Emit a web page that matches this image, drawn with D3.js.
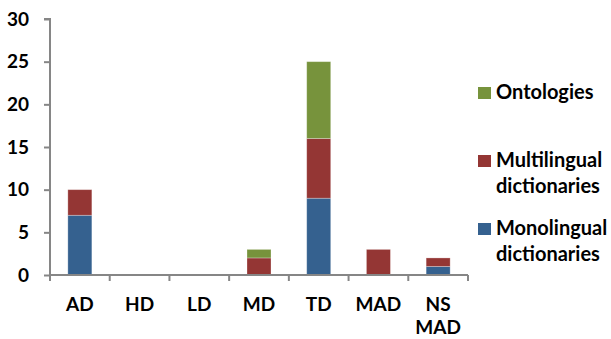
<!DOCTYPE html>
<html><head><meta charset="utf-8">
<script src="https://cdn.jsdelivr.net/npm/d3@7"></script>
<style>body{margin:0;background:#fff}svg{display:block}text{font-family:Lato,"Open Sans",sans-serif;font-weight:bold;fill:#000}</style>
</head><body><svg id="c" width="611" height="339"></svg>
<script>
const categories = ["AD","HD","LD","MD","TD","MAD","NS MAD"];
const monolingual = [7,0,0,0,9,0,1];
const multilingual = [3,0,0,2,7,3,1];
const ontologies = [0,0,0,1,9,0,0];
const yTicks = [0,5,10,15,20,25,30];
const seriesNames = ["Monolingual dictionaries","Multilingual dictionaries","Ontologies"];
const colors = ["#35618f","#943634","#77933c"];

const svg = d3.select("#c");
const pLeft = 50, pRight = 468, pTop = 19, pBottom = 275;
const x = d3.scaleBand().domain(categories).range([pLeft, pRight]);
const y = d3.scaleLinear().domain([0,30]).range([pBottom, pTop]);
const axisColor = "#868686";
const fs = "19px";

const rows = categories.map((c,i)=>({cat:c, s0:monolingual[i], s1:multilingual[i], s2:ontologies[i]}));
const stack = d3.stack().keys(["s0","s1","s2"])(rows);
const barW = 24;
stack.forEach((layer,k)=>{
  svg.append("g").selectAll("rect").data(layer.filter(d=>d[1]-d[0]>0)).join("rect")
    .attr("x", d=>x(d.data.cat)+x.bandwidth()/2-barW/2)
    .attr("width", barW)
    .attr("y", d=>y(d[1]))
    .attr("height", d=>y(d[0])-y(d[1]))
    .attr("fill", colors[k])
    .attr("stroke", "rgba(255,255,255,0.35)").attr("stroke-width",0.8);
});

// y axis
const ya = svg.append("g").attr("transform",`translate(${pLeft},0)`)
  .call(d3.axisLeft(y).tickValues(yTicks).tickSize(6).tickPadding(15));
ya.select(".domain").attr("stroke",axisColor).attr("stroke-width",2).attr("d",`M-6,${pTop}H0V${pBottom}`);
ya.selectAll(".tick line").attr("stroke",axisColor).attr("stroke-width",2);
ya.selectAll(".tick text").style("font-size",fs).style("font-family","Lato,'Open Sans',sans-serif").style("font-weight","bold").attr("fill","#000");

// x axis
const xa = svg.append("g").attr("transform",`translate(0,${pBottom})`);
xa.append("line").attr("x1",pLeft).attr("x2",pRight).attr("y1",0).attr("y2",0).attr("stroke",axisColor).attr("stroke-width",2);
const bounds = categories.map(c=>x(c)).concat([pRight]);
xa.selectAll("line.t").data(bounds).join("line").attr("class","t")
  .attr("x1",d=>d).attr("x2",d=>d).attr("y1",0).attr("y2",6).attr("stroke",axisColor).attr("stroke-width",2);
categories.forEach(c=>{
  const parts = c.split(" ");
  const t = xa.append("text").attr("text-anchor","middle").style("font-size",fs)
    .attr("x", x(c)+x.bandwidth()/2).attr("y", 36);
  parts.forEach((p,i)=>t.append("tspan").attr("x", x(c)+x.bandwidth()/2).attr("dy", i===0?0:23).text(p));
});

// legend
const legendItems = [
  {name:"Ontologies", lines:["Ontologies"], color:colors[2], y:87},
  {name:"Multilingual dictionaries", lines:["Multilingual","dictionaries"], color:colors[1], y:155},
  {name:"Monolingual dictionaries", lines:["Monolingual","dictionaries"], color:colors[0], y:223}
];
const lg = svg.append("g");
legendItems.forEach(it=>{
  lg.append("rect").attr("x",478).attr("y",it.y).attr("width",13).attr("height",12).attr("fill",it.color);
  const t = lg.append("text").attr("x",496).attr("y",it.y+12).style("font-size","20px");
  it.lines.forEach((l,i)=>t.append("tspan").attr("x",496).attr("dy",i===0?0:26).text(l));
});
</script></body></html>
